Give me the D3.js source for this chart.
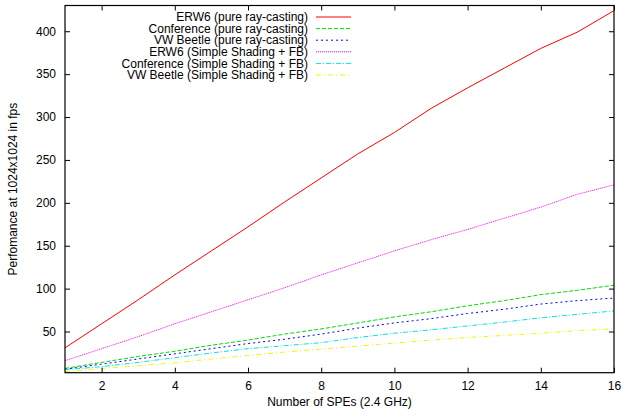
<!DOCTYPE html>
<html><head><meta charset="utf-8">
<script src="https://cdn.jsdelivr.net/npm/d3@7"></script>
<style>body{margin:0;background:#fff}svg{display:block}text{font-family:"Liberation Sans",Arial,sans-serif;fill:#000}</style>
</head><body><svg id="c" width="622" height="409"></svg>
<script>
const spes = [1,2,3,4,5,6,7,8,9,10,11,12,13,14,15,16];
const erw6Pure = [31,59,87,116,144,172,201,229,257,282,310,334,357,380,399,424];
const confPure = [7,14,21,27,34,40,47,53,60,67,73,80,86,93,98,104];
const beetlePure = [6,12,18,24,30,36,41,47,54,60,65,71,76,82,86,89];
const erw6Shade = [16,30,44,59,73,87,101,116,130,144,157,169,182,195,210,221];
const confShade = [5.5,9,14,19.5,25,30,33.5,37,43,48,52,56.5,61,66,70,74];
const beetleShade = [3,7,10,13.5,18,22,26,29.5,33,36.5,40,43,45.5,48,51,53];
const seriesNames = ["ERW6 (pure ray-casting)","Conference (pure ray-casting)","VW Beetle (pure ray-casting)","ERW6 (Simple Shading + FB)","Conference (Simple Shading + FB)","VW Beetle (Simple Shading + FB)"];
const xTicks = [2,4,6,8,10,12,14,16];
const yTicks = [50,100,150,200,250,300,350,400];
const xTitle = "Number of SPEs (2.4 GHz)";
const yTitle = "Perfomance at 1024x1024 in fps";

const series = [erw6Pure, confPure, beetlePure, erw6Shade, confShade, beetleShade];
const colors = ["#ff0000","#00dd00","#0000ff","#ff00ff","#00e5e5","#f5f500"];
const dashes = [null,"4,2","2,3","1,1","5,2,1,2","5,3,1,3"];

const svg = d3.select("#c");
const L=65, R=614, T=5.5, B=372.7;
const x = d3.scaleLinear().domain([1,16]).range([L,R]);
const y = d3.scaleLinear().domain([2,430]).range([B,T]);

const g = svg.append("g");
const line = d3.line().x((d,i)=>x(spes[i])).y(d=>y(d));
series.forEach((s,k)=>{
  g.append("path").attr("d",line(s)).attr("fill","none")
   .attr("stroke",colors[k]).attr("stroke-width",1)
   .attr("stroke-dasharray",dashes[k]);
});

const fs = "12px";
const axB = svg.append("g").attr("transform",`translate(0,${B})`)
  .call(d3.axisBottom(x).tickValues(xTicks).tickSizeInner(-5).tickSizeOuter(0).tickPadding(9));
const axT = svg.append("g").attr("transform",`translate(0,${T})`)
  .call(d3.axisTop(x).tickValues(xTicks).tickSizeInner(-5).tickSizeOuter(0).tickFormat(""));
const axL = svg.append("g").attr("transform",`translate(${L},0)`)
  .call(d3.axisLeft(y).tickValues(yTicks).tickSizeInner(-5).tickSizeOuter(0).tickPadding(9));
const axR = svg.append("g").attr("transform",`translate(${R},0)`)
  .call(d3.axisRight(y).tickValues(yTicks).tickSizeInner(-5).tickSizeOuter(0).tickFormat(""));
[axB,axT,axL,axR].forEach(a=>{
  a.select(".domain").remove();
  a.selectAll("line").attr("stroke","#000");
  a.selectAll("text").style("font-size",fs).attr("fill","#000");
});
svg.append("rect").attr("x",L).attr("y",T).attr("width",R-L).attr("height",B-T)
  .attr("fill","none").attr("stroke","#000").attr("stroke-width",1.2);

svg.append("text").attr("x",(L+R)/2).attr("y",406).attr("text-anchor","middle")
  .style("font-size","12px").text(xTitle);
svg.append("text").attr("transform",`translate(17,${(T+B)/2}) rotate(-90)`)
  .attr("text-anchor","middle").style("font-size","12px").text(yTitle);

const ly0 = 17, ldy = 11.6;
seriesNames.forEach((n,k)=>{
  const yy = ly0 + k*ldy;
  svg.append("text").attr("x",308).attr("y",yy).attr("dy","0.35em")
    .attr("text-anchor","end").style("font-size","12px").text(n);
  svg.append("line").attr("x1",316).attr("x2",351).attr("y1",yy).attr("y2",yy)
    .attr("stroke",colors[k]).attr("stroke-width",1).attr("stroke-dasharray",dashes[k]);
});
</script></body></html>
